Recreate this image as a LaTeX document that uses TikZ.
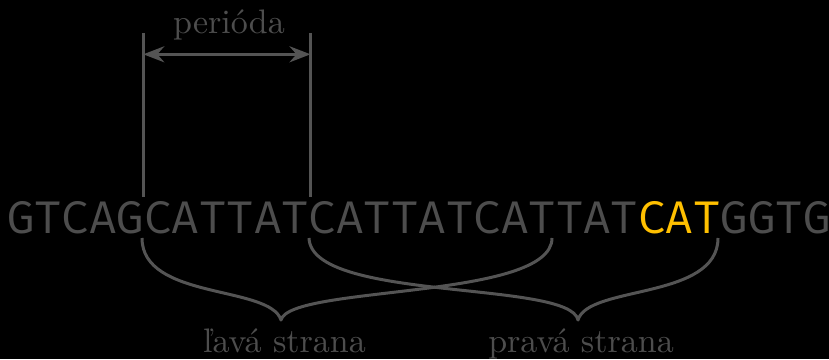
\documentclass[tikz,border=0pt]{standalone}
\usepackage{fontspec}
\setmainfont{lmroman10-regular.otf}
\newfontfamily\dnafont{Fira Mono}
\usetikzlibrary{arrows.meta}
\definecolor{txtgray}{HTML}{4D4D4D}
\definecolor{linegray}{HTML}{545454}
\definecolor{catyellow}{HTML}{FFC000}
\tikzset{
  guide/.style={draw=linegray, line width=3pt},
  spanarrow/.style={draw=linegray, line width=3pt, {Stealth[length=21pt,width=16pt,inset=7pt]}-{Stealth[length=21pt,width=16pt,inset=7pt]}},
  bracecurve/.style={draw=linegray, line width=3pt, line join=round},
  dna/.style={inner sep=0pt, anchor=base west, text=txtgray, font=\dnafont\fontsize{45.75}{50}\selectfont},
  lbl/.style={inner sep=0pt, anchor=base, text=txtgray, font=\fontsize{34}{40}\selectfont}
}
\begin{document}
\begin{tikzpicture}[x=1pt,y=1pt]
\fill[black] (0,0) rectangle (829,359);
\useasboundingbox (0,0) rectangle (829,359);

% sequence
\node[dna] (seq) at (6.8,126) {GTCAGCATTATCATTATCATTAT\textcolor{catyellow}{CAT}GGTG};

% period guides
\coordinate (g1top) at (143.3,326);
\coordinate (g1bot) at (143.3,162);
\coordinate (g2top) at (310.5,326);
\coordinate (g2bot) at (310.5,162);
\draw[guide] (g1top) -- (g1bot);
\draw[guide] (g2top) -- (g2bot);
\coordinate (a1) at (143.3,304.7);
\coordinate (a2) at (310.5,304.7);
\draw[spanarrow] (a1) -- (a2);
\node[lbl] (per) at (229,325) {perióda};

% left brace
\coordinate (lA) at (142,121);
\coordinate (lT) at (281,39);
\coordinate (lB) at (552,121);
\draw[bracecurve] (lA) .. controls (142,59) and (270,74) .. (lT)
                       .. controls (290,74) and (552,59) .. (lB);
\node[lbl] (lav) at (284.5,7) {ľavá strana};

% right brace
\coordinate (rA) at (309,121);
\coordinate (rT) at (578,39);
\coordinate (rB) at (718,121);
\draw[bracecurve] (rA) .. controls (311,57) and (570,79) .. (rT)
                       .. controls (588,74) and (718,59) .. (rB);
\node[lbl] (prav) at (581,7) {pravá strana};
\end{tikzpicture}
\end{document}
